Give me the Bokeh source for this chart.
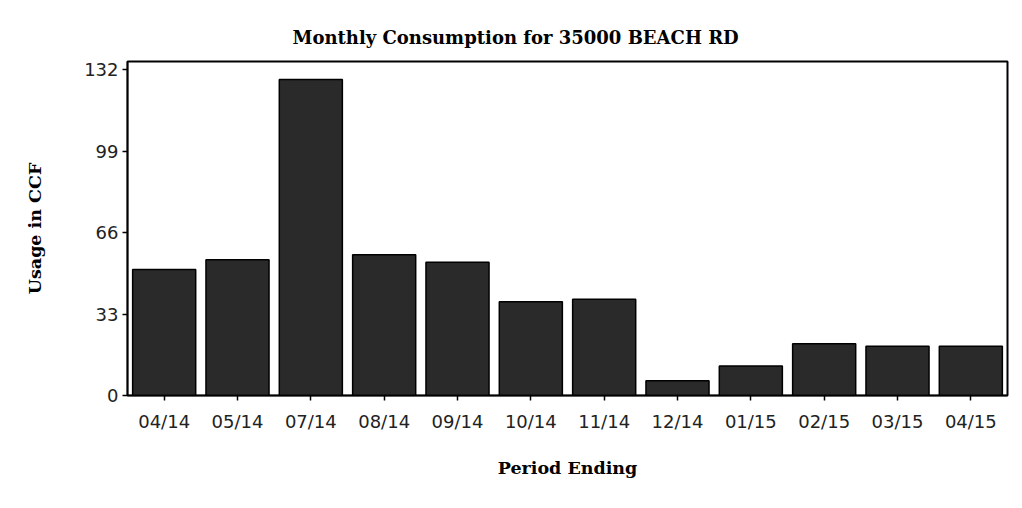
from bokeh.plotting import figure
from bokeh.models import ColumnDataSource, FixedTicker, Range1d, FactorRange, Title
from bokeh.embed import file_html
from bokeh.resources import INLINE

periods = ["04/14", "05/14", "07/14", "08/14", "09/14", "10/14",
           "11/14", "12/14", "01/15", "02/15", "03/15", "04/15"]
usage = [51, 55, 128, 57, 54, 38, 39, 6, 12, 21, 20, 20]
y_ticks = [0, 33, 66, 99, 132]

title_text = "Monthly Consumption for 35000 BEACH RD"
x_label = "Period Ending"
y_label = "Usage in CCF"

src = ColumnDataSource(data=dict(period=periods, usage=usage))

p = figure(width=1014, height=500, output_backend="svg", toolbar_location=None,
           x_range=FactorRange(*periods, range_padding=0),
           y_range=Range1d(0, 135.3),
           min_border_left=127, min_border_right=7, min_border_top=61,
           min_border_bottom=105)
p.title = None

t = Title(text=title_text, align="left", offset=165,
          text_font="DejaVu Serif", text_font_style="bold",
          text_font_size="18px", text_color="#000000", standoff=27)
p.add_layout(t, "above")

p.vbar(x="period", top="usage", width=0.86, source=src,
       fill_color="#2a2a2a", line_color="#000000", line_width=1.5)

p.xgrid.visible = False
p.ygrid.visible = False
p.outline_line_color = "#000000"
p.outline_line_width = 2
p.background_fill_color = "white"
p.border_fill_color = "white"

p.yaxis.ticker = FixedTicker(ticks=y_ticks)
p.yaxis.minor_tick_line_color = None
for ax in (p.xaxis[0], p.yaxis[0]):
    ax.axis_line_color = "#000000"
    ax.axis_line_width = 1.5
    ax.major_tick_line_color = "#000000"
    ax.major_tick_line_width = 1.5
    ax.major_tick_out = 5
    ax.major_tick_in = 0
    ax.major_label_text_font = "DejaVu Sans"
    ax.major_label_text_font_size = "18px"
    ax.major_label_text_color = "#222222"
    ax.axis_label_text_font = "DejaVu Serif"
    ax.axis_label_text_font_style = "bold"
    ax.axis_label_text_font_size = "17.5px"
    ax.axis_label_text_color = "#000000"

p.xaxis.axis_label = x_label
p.yaxis.axis_label = y_label
p.xaxis.major_label_standoff = 10
p.xaxis.axis_label_standoff = 23
p.yaxis.major_label_standoff = 4
p.yaxis.axis_label_standoff = 36

open("out.html", "w").write(file_html(p, INLINE))
